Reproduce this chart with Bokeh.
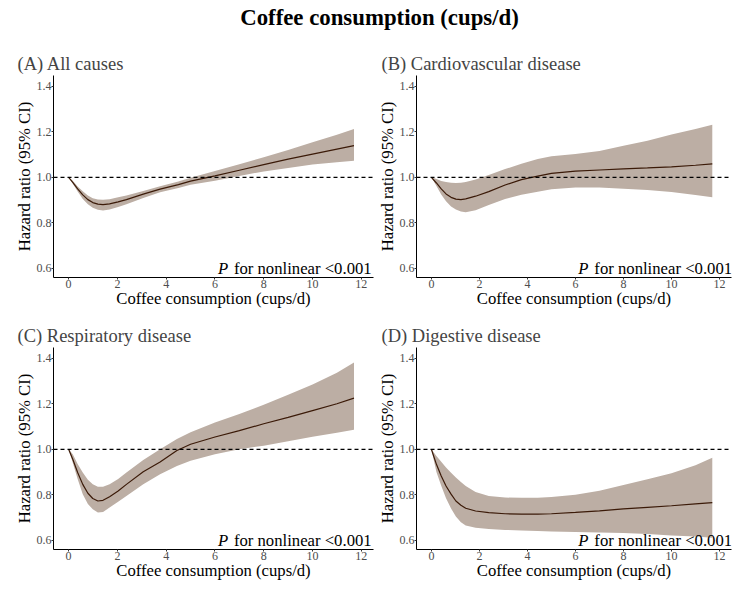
from bokeh.plotting import figure
from bokeh.layouts import column, row
from bokeh.models import Range1d, Span, FixedTicker, PrintfTickFormatter
from bokeh.core.properties import value
from bokeh.embed import file_html
from bokeh.resources import INLINE

FONT = "'Liberation Serif', serif"
RIBBON = "#bcaea4"
LINE = "#3b1a08"

main_title = "Coffee consumption (cups/d)"
x_label = "Coffee consumption (cups/d)"
y_label = "Hazard ratio (95% CI)"
p_text_italic = "P"
p_text_rest = "for nonlinear <0.001"
x_ticks = [0, 2, 4, 6, 8, 10, 12]
y_ticks = [0.6, 0.8, 1.0, 1.2, 1.4]

titles = ["(A) All causes", "(B) Cardiovascular disease",
          "(C) Respiratory disease", "(D) Digestive disease"]

# Panel A: all causes
a_x = [0, 0.17, 0.37, 0.58, 0.79, 0.99, 1.2, 1.41, 1.68, 2.03, 2.37, 3.06, 3.75, 4.5, 5.0, 6.0, 7.0, 8.0, 9.0, 10.0, 11.0, 11.7]
a_hr = [1.0, 0.978, 0.949, 0.923, 0.902, 0.889, 0.882, 0.880, 0.883, 0.892, 0.902, 0.926, 0.948, 0.968, 0.983, 1.006, 1.031, 1.056, 1.080, 1.102, 1.124, 1.139]
a_hi = [1.0, 0.985, 0.960, 0.939, 0.920, 0.908, 0.902, 0.901, 0.904, 0.912, 0.920, 0.940, 0.961, 0.982, 0.998, 1.028, 1.057, 1.088, 1.120, 1.154, 1.187, 1.212]
a_lo = [1.0, 0.972, 0.938, 0.905, 0.882, 0.866, 0.858, 0.854, 0.859, 0.870, 0.882, 0.909, 0.934, 0.953, 0.967, 0.985, 1.006, 1.026, 1.041, 1.056, 1.066, 1.073]

# Panel B: cardiovascular disease
b_x = [0, 0.21, 0.41, 0.61, 0.82, 1.02, 1.23, 1.43, 1.84, 2.39, 3.07, 3.75, 4.43, 5.0, 6.0, 7.0, 8.0, 9.0, 10.0, 11.0, 11.7]
b_hr = [1.0, 0.975, 0.949, 0.927, 0.912, 0.904, 0.902, 0.905, 0.917, 0.937, 0.966, 0.990, 1.005, 1.017, 1.027, 1.032, 1.037, 1.041, 1.046, 1.053, 1.059]
b_hi = [1.0, 0.992, 0.984, 0.979, 0.976, 0.975, 0.976, 0.979, 0.990, 1.010, 1.036, 1.060, 1.080, 1.092, 1.102, 1.115, 1.138, 1.160, 1.188, 1.212, 1.231]
b_lo = [1.0, 0.962, 0.925, 0.895, 0.872, 0.859, 0.850, 0.847, 0.855, 0.878, 0.905, 0.923, 0.936, 0.948, 0.955, 0.955, 0.950, 0.944, 0.935, 0.922, 0.912]

# Panel C: respiratory disease
c_x = [0, 0.17, 0.37, 0.58, 0.79, 0.99, 1.2, 1.41, 1.68, 2.03, 2.37, 3.06, 3.75, 4.44, 5.0, 6.0, 7.0, 8.0, 9.0, 10.0, 11.0, 11.7]
c_hr = [1.0, 0.956, 0.898, 0.846, 0.807, 0.784, 0.773, 0.776, 0.792, 0.817, 0.846, 0.901, 0.944, 0.995, 1.022, 1.054, 1.082, 1.112, 1.140, 1.170, 1.200, 1.225]
c_hi = [1.0, 0.978, 0.935, 0.898, 0.866, 0.846, 0.835, 0.835, 0.846, 0.870, 0.898, 0.953, 1.000, 1.045, 1.075, 1.118, 1.155, 1.196, 1.240, 1.285, 1.336, 1.381]
c_lo = [1.0, 0.941, 0.870, 0.803, 0.760, 0.737, 0.722, 0.725, 0.744, 0.770, 0.795, 0.846, 0.890, 0.927, 0.950, 0.978, 1.000, 1.016, 1.035, 1.055, 1.073, 1.086]

# Panel D: digestive disease
d_x = [0, 0.21, 0.41, 0.61, 0.82, 1.02, 1.23, 1.43, 1.84, 2.39, 3.07, 3.75, 4.43, 5.0, 6.0, 7.0, 8.0, 9.0, 10.0, 11.0, 11.7]
d_hr = [1.0, 0.934, 0.883, 0.839, 0.803, 0.773, 0.754, 0.741, 0.729, 0.722, 0.717, 0.715, 0.715, 0.717, 0.723, 0.730, 0.738, 0.745, 0.752, 0.760, 0.766]
d_hi = [1.0, 0.971, 0.945, 0.920, 0.897, 0.876, 0.856, 0.839, 0.813, 0.795, 0.788, 0.787, 0.787, 0.790, 0.800, 0.818, 0.843, 0.868, 0.895, 0.930, 0.963]
d_lo = [1.0, 0.900, 0.840, 0.785, 0.740, 0.705, 0.680, 0.665, 0.655, 0.650, 0.646, 0.643, 0.641, 0.639, 0.637, 0.635, 0.633, 0.628, 0.622, 0.617, 0.612]

panels = [
    (a_x, a_hr, a_lo, a_hi),
    (b_x, b_hr, b_lo, b_hi),
    (c_x, c_hr, c_lo, c_hi),
    (d_x, d_hr, d_lo, d_hi),
]

FIG_H = 272
# (figure width, left border, frame width, title offset) for left / right column
COLS = [(374, 53, 320, -36), (367, 39, 318, -35)]


def make_panel(i):
    xs, hr, lo, hi = panels[i]
    w, left, fw, toff = COLS[i % 2]
    p = figure(width=w, height=FIG_H, output_backend="svg", toolbar_location=None,
               x_range=Range1d(-0.62, 12.5), y_range=Range1d(0.56, 1.447),
               min_border_left=left, min_border_right=w - left - fw,
               min_border_top=35, min_border_bottom=35)
    p.title.text = titles[i]
    p.title.align = "left"
    p.title.offset = toff
    p.title.text_font = FONT
    p.title.text_font_size = "18.5px"
    p.title.text_font_style = "normal"
    p.title.standoff = 4
    p.outline_line_color = None
    p.grid.visible = False
    p.background_fill_color = "white"

    p.varea(x=xs, y1=lo, y2=hi, fill_color=RIBBON, fill_alpha=1.0)
    p.add_layout(Span(location=1.0, dimension="width", line_color="black",
                      line_width=1.2, line_dash="4 3"))
    p.line(x=xs, y=hr, line_color=LINE, line_width=1.2)

    px = 6.12
    p.text(x=[px], y=[0.6], text=[p_text_italic], text_font=value(FONT),
           text_font_size="16.7px", text_font_style="italic",
           text_align="left", text_baseline="middle", text_color="black")
    p.text(x=[px], y=[0.6], text=[p_text_rest], text_font=value(FONT),
           text_font_size="16.7px", text_align="left", text_baseline="middle",
           text_color="black", x_offset=16)

    for ax in (p.xaxis[0], p.yaxis[0]):
        ax.axis_line_color = "black"
        ax.axis_line_width = 1
        ax.major_tick_line_color = "#333333"
        ax.major_tick_out = 2
        ax.major_tick_in = 0
        ax.minor_tick_line_color = None
        ax.major_label_text_font = FONT
        ax.major_label_text_font_size = "12px"
        ax.major_label_text_color = "#4d4d4d"
        ax.axis_label_text_font = FONT
        ax.axis_label_text_font_size = "16.7px"
        ax.axis_label_text_font_style = "normal"
        ax.axis_label_text_color = "black"
        ax.major_label_standoff = 0
    p.xaxis.ticker = FixedTicker(ticks=x_ticks)
    p.yaxis.ticker = FixedTicker(ticks=y_ticks)
    p.yaxis.formatter = PrintfTickFormatter(format="%.1f")
    p.xaxis.axis_label = x_label
    p.yaxis.axis_label = y_label
    p.xaxis.axis_label_standoff = -2
    p.yaxis.axis_label_standoff = 0
    return p


TW = COLS[0][0] + COLS[1][0]
title_fig = figure(width=TW, height=40, output_backend="svg", toolbar_location=None,
                   x_range=Range1d(0, TW), y_range=Range1d(0, 40),
                   min_border=0, x_axis_type=None, y_axis_type=None)
title_fig.outline_line_color = None
title_fig.grid.visible = False
title_fig.text(x=[379], y=[23], text=[main_title], text_font=value(FONT),
               text_font_size="22.8px", text_font_style="bold",
               text_align="center", text_baseline="middle", text_color="black")

figs = [make_panel(i) for i in range(4)]
layout = column(title_fig, row(figs[0], figs[1]), row(figs[2], figs[3]))

open("out.html", "w").write(file_html(layout, INLINE))
